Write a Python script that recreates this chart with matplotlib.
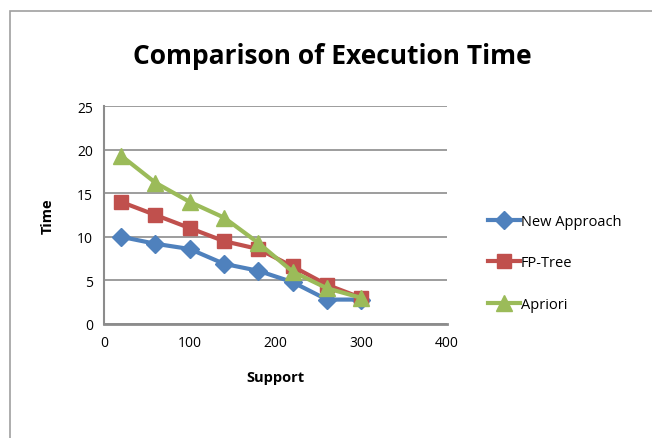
import matplotlib
matplotlib.use("Agg")
import matplotlib.pyplot as plt
from matplotlib.patches import Rectangle

support = [20, 60, 100, 140, 180, 220, 260, 300]
new_approach = [10.0, 9.2, 8.6, 6.9, 6.1, 4.8, 2.8, 2.8]
fp_tree = [14.0, 12.5, 11.0, 9.5, 8.6, 6.6, 4.5, 3.0]
apriori = [19.3, 16.2, 14.0, 12.2, 9.3, 6.0, 4.1, 3.0]
series_names = ["New Approach", "FP-Tree", "Apriori"]
xticks = [0, 100, 200, 300, 400]
yticks = [0, 5, 10, 15, 20, 25]

plt.rcParams['font.family'] = ['Open Sans', 'DejaVu Sans']

fig = plt.figure(figsize=(6.52, 4.39), dpi=100)
fig.patches.append(Rectangle((10/652, -0.01), 1.0, 1 - 12/439 + 0.01, transform=fig.transFigure,
                             fill=False, edgecolor='#a0a0a0', linewidth=1.2))
ax = fig.add_axes([104/652, (439-325)/439, 343/652, 218/439])

ax.plot(support, new_approach, color='#4F81BD', lw=3, marker='D', ms=9, label=series_names[0])
ax.plot(support, fp_tree, color='#C0504D', lw=3, marker='s', ms=10, label=series_names[1])
ax.plot(support, apriori, color='#9BBB59', lw=3, marker='^', ms=12, label=series_names[2])

ax.set_xlim(0, 400)
ax.set_ylim(0, 25)
ax.set_xticks(xticks)
ax.set_yticks(yticks)
ax.grid(axis='y', color='#8c8c8c', lw=1.2)
ax.set_axisbelow(True)
for s in ['top', 'right']:
    ax.spines[s].set_visible(False)
ax.spines['left'].set_color('#8c8c8c')
ax.spines['left'].set_linewidth(1.5)
ax.spines['bottom'].set_color('#8c8c8c')
ax.spines['bottom'].set_linewidth(2)
ax.tick_params(length=0, labelsize=10, pad=8)
ax.set_xlabel('Support', fontsize=10.5, fontweight='bold', labelpad=14)
ax.set_ylabel('Time', fontsize=10.5, fontweight='bold', labelpad=16)

fig.text(332/652, 1 - 57/439, 'Comparison of Execution Time', ha='center', va='center',
         fontsize=19, fontweight='bold')

leg = ax.legend(loc='center left', bbox_to_anchor=(1.08, 0.28), frameon=False, fontsize=10.5,
                handlelength=2.2, labelspacing=1.82, handletextpad=0.1)

fig.savefig('out.png', dpi=100)
